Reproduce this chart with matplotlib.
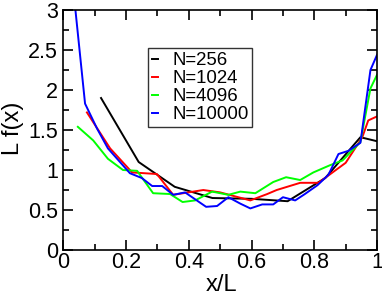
import matplotlib
matplotlib.use('Agg')
import matplotlib.pyplot as plt
from matplotlib.ticker import MultipleLocator

plt.rcParams['font.family'] = ['Liberation Sans', 'DejaVu Sans']

# N=256
x_256 = [0.12, 0.24, 0.355, 0.475, 0.60, 0.715, 0.835, 0.947, 1.0]
y_256 = [1.90, 1.10, 0.79, 0.65, 0.64, 0.61, 0.90, 1.41, 1.36]

# N=1024
x_1024 = [0.075, 0.149, 0.219, 0.298, 0.35, 0.446, 0.50, 0.596, 0.65, 0.68,
          0.755, 0.813, 0.90, 0.953, 0.972, 1.0]
y_1024 = [1.72, 1.27, 0.97, 0.95, 0.69, 0.75, 0.72, 0.62, 0.70, 0.75,
          0.84, 0.84, 1.09, 1.41, 1.62, 1.67]

# N=4096
x_4096 = [0.046, 0.095, 0.142, 0.19, 0.235, 0.286, 0.34, 0.38, 0.42, 0.474,
          0.526, 0.564, 0.612, 0.669, 0.71, 0.755, 0.797, 0.85, 0.89, 0.947,
          0.979, 1.0]
y_4096 = [1.54, 1.37, 1.14, 1.00, 0.99, 0.71, 0.70, 0.60, 0.62, 0.73,
          0.69, 0.73, 0.71, 0.85, 0.91, 0.875, 0.97, 1.06, 1.12, 1.35,
          2.02, 2.19]

# N=10000
x_10000 = [0.037, 0.069, 0.107, 0.142, 0.212, 0.25, 0.283, 0.315, 0.35, 0.388,
           0.455, 0.49, 0.526, 0.564, 0.596, 0.634, 0.669, 0.70, 0.739, 0.77,
           0.81, 0.845, 0.877, 0.909, 0.947, 0.979, 1.0]
y_10000 = [3.05, 1.83, 1.52, 1.27, 0.96, 0.90, 0.80, 0.80, 0.69, 0.72,
           0.54, 0.55, 0.66, 0.58, 0.52, 0.57, 0.57, 0.66, 0.62, 0.70,
           0.81, 0.94, 1.20, 1.24, 1.34, 2.25, 2.44]

fig = plt.figure(figsize=(3.82, 2.95), dpi=100)
ax = fig.add_axes([0.166, 0.1525, 0.821, 0.8135])

lw = 1.4
ax.plot(x_256, y_256, color='black', lw=lw, label='N=256')
ax.plot(x_1024, y_1024, color='#ff0000', lw=lw, label='N=1024')
ax.plot(x_4096, y_4096, color='#00ff00', lw=lw, label='N=4096')
ax.plot(x_10000, y_10000, color='#0000ff', lw=lw, label='N=10000')

ax.set_xlim(0, 1)
ax.set_ylim(0, 3)
ax.xaxis.set_major_locator(MultipleLocator(0.2))
ax.xaxis.set_minor_locator(MultipleLocator(0.1))
ax.yaxis.set_major_locator(MultipleLocator(0.5))
ax.yaxis.set_minor_locator(MultipleLocator(0.25))
ax.xaxis.set_major_formatter(plt.FuncFormatter(lambda v, p: f'{v:g}'))
ax.yaxis.set_major_formatter(plt.FuncFormatter(lambda v, p: f'{v:g}'))

ax.tick_params(which='both', direction='in', top=True, right=True, width=1.2)
ax.tick_params(which='major', length=7, labelsize=15.5)
ax.tick_params(which='minor', length=4)
ax.tick_params(axis='x', which='major', pad=1.5)
ax.tick_params(axis='y', which='major', pad=4)
for s in ax.spines.values():
    s.set_linewidth(1.2)

ax.set_xlabel('x/L', fontsize=17)
ax.set_ylabel('L f(x)', fontsize=17)
ax.xaxis.set_label_coords(0.503, -0.1)
ax.yaxis.set_label_coords(-0.125, 0.506)

leg = ax.legend(loc='upper left', bbox_to_anchor=(0.27, 0.84), fontsize=13.4,
                handlelength=0.35, handletextpad=0.75, borderpad=0.2,
                borderaxespad=0, labelspacing=0.05, frameon=True, fancybox=False)
leg.get_frame().set_edgecolor('black')
leg.get_frame().set_linewidth(1.0)

plt.savefig('out.png', dpi=100)
